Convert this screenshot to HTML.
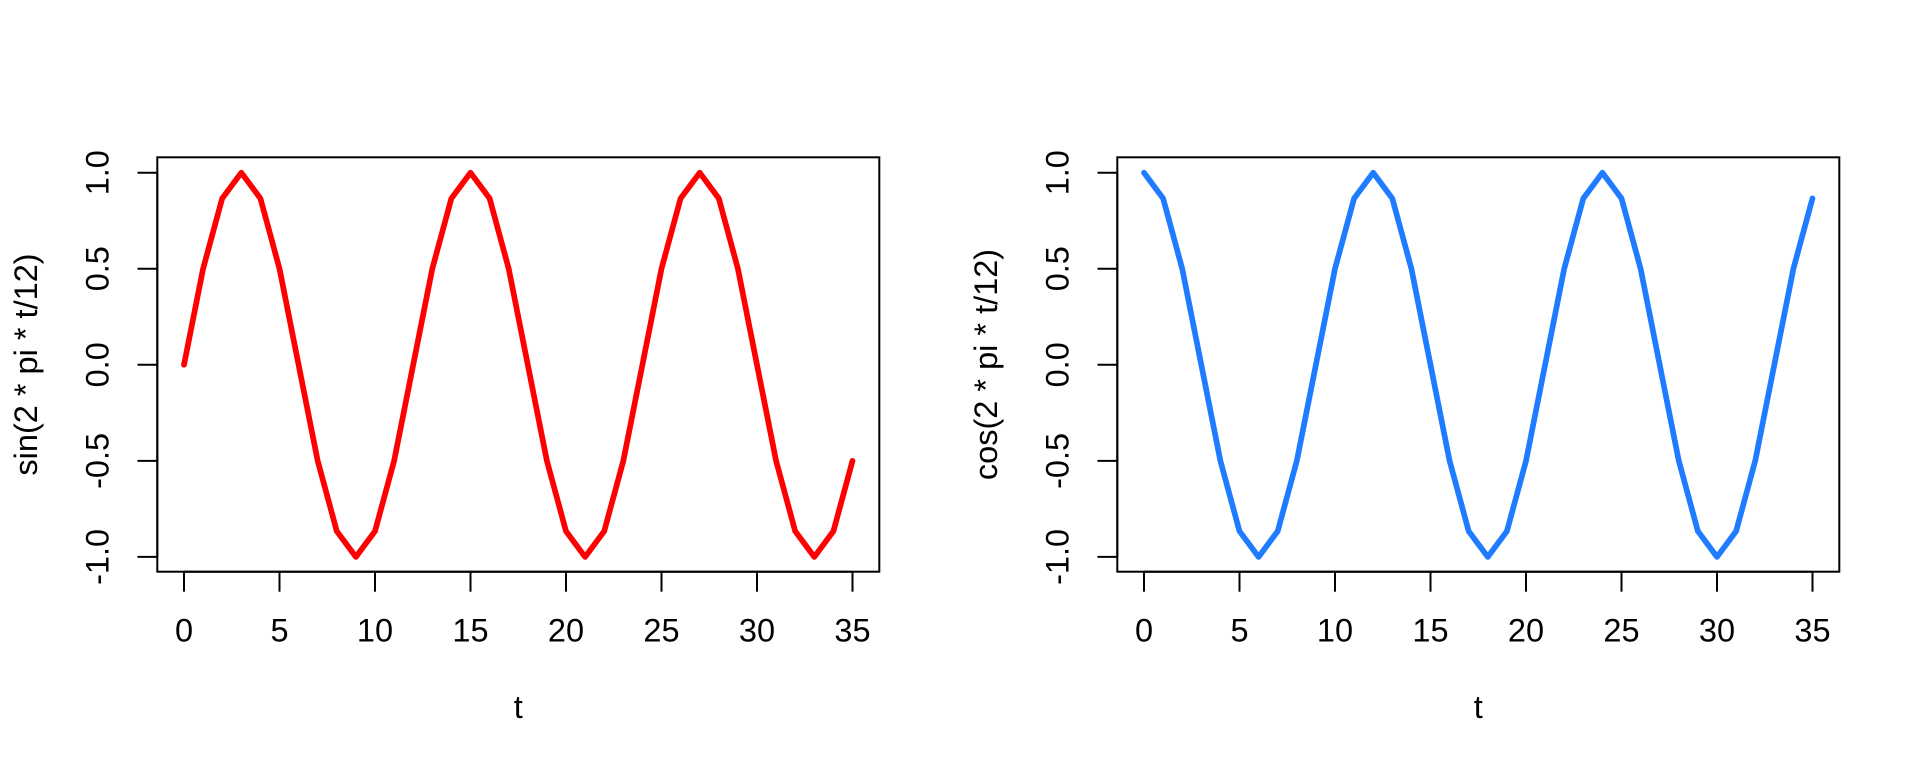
<!DOCTYPE html>
<html>
<head>
<meta charset="utf-8">
<style>
  html,body{margin:0;padding:0;background:#fff;}
  svg{display:block;}
  text{font-family:"Liberation Sans", Arial, Helvetica, sans-serif; fill:#000;}
</style>
</head>
<body>
<svg width="1920" height="768" viewBox="0 0 1920 768" xmlns="http://www.w3.org/2000/svg">
  <rect x="0" y="0" width="1920" height="768" fill="#fff"/>

  <!-- ============ LEFT PANEL ============ -->
  <g>
    <polyline fill="none" stroke="#ff0000" stroke-width="5.7" stroke-linejoin="round" stroke-linecap="round"
      points="184,364.8 203.1,268.7 222.2,198.4 241.3,172.7 260.4,198.4 279.5,268.7 298.6,364.8 317.7,460.9 336.8,531.2 355.9,556.9 375,531.2 394.1,460.9 413.2,364.8 432.3,268.7 451.4,198.4 470.5,172.7 489.6,198.4 508.7,268.7 527.8,364.8 546.9,460.9 566,531.2 585.1,556.9 604.2,531.2 623.3,460.9 642.4,364.8 661.5,268.7 680.6,198.4 699.7,172.7 718.8,198.4 737.9,268.7 757,364.8 776.1,460.9 795.2,531.2 814.3,556.9 833.4,531.2 852.5,460.9"/>
    <rect x="157.3" y="157.3" width="722" height="414.4" fill="none" stroke="#000" stroke-width="2"/>
    <g stroke="#000" stroke-width="2">
      <line x1="184" y1="571.7" x2="852.5" y2="571.7"/>
      <line x1="184" y1="571.7" x2="184" y2="591.7"/>
      <line x1="279.5" y1="571.7" x2="279.5" y2="591.7"/>
      <line x1="375" y1="571.7" x2="375" y2="591.7"/>
      <line x1="470.5" y1="571.7" x2="470.5" y2="591.7"/>
      <line x1="566" y1="571.7" x2="566" y2="591.7"/>
      <line x1="661.5" y1="571.7" x2="661.5" y2="591.7"/>
      <line x1="757" y1="571.7" x2="757" y2="591.7"/>
      <line x1="852.5" y1="571.7" x2="852.5" y2="591.7"/>
      <line x1="157.3" y1="172.7" x2="157.3" y2="556.9"/>
      <line x1="137.5" y1="172.7" x2="157.3" y2="172.7"/>
      <line x1="137.5" y1="268.7" x2="157.3" y2="268.7"/>
      <line x1="137.5" y1="364.8" x2="157.3" y2="364.8"/>
      <line x1="137.5" y1="460.9" x2="157.3" y2="460.9"/>
      <line x1="137.5" y1="556.9" x2="157.3" y2="556.9"/>
    </g>
    <g font-size="32.5" text-anchor="middle">
      <text x="184" y="641.7">0</text>
      <text x="279.5" y="641.7">5</text>
      <text x="375" y="641.7">10</text>
      <text x="470.5" y="641.7">15</text>
      <text x="566" y="641.7">20</text>
      <text x="661.5" y="641.7">25</text>
      <text x="757" y="641.7">30</text>
      <text x="852.5" y="641.7">35</text>
      <text transform="translate(108.5,172.7) rotate(-90)">1.0</text>
      <text transform="translate(108.5,268.7) rotate(-90)">0.5</text>
      <text transform="translate(108.5,364.8) rotate(-90)">0.0</text>
      <text transform="translate(108.5,460.9) rotate(-90)">-0.5</text>
      <text transform="translate(108.5,556.9) rotate(-90)">-1.0</text>
      <text x="518.3" y="718">t</text>
      <text transform="translate(37,364.5) rotate(-90)">sin(2 * pi * t/12)</text>
    </g>
  </g>

  <!-- ============ RIGHT PANEL ============ -->
  <g>
    <polyline fill="none" stroke="#1f7bff" stroke-width="5.7" stroke-linejoin="round" stroke-linecap="round"
      points="1144,172.7 1163.1,198.4 1182.2,268.7 1201.3,364.8 1220.4,460.9 1239.5,531.2 1258.6,556.9 1277.7,531.2 1296.8,460.9 1315.9,364.8 1335,268.7 1354.1,198.4 1373.2,172.7 1392.3,198.4 1411.4,268.7 1430.5,364.8 1449.6,460.9 1468.7,531.2 1487.8,556.9 1506.9,531.2 1526,460.9 1545.1,364.8 1564.2,268.7 1583.3,198.4 1602.4,172.7 1621.5,198.4 1640.6,268.7 1659.7,364.8 1678.8,460.9 1697.9,531.2 1717,556.9 1736.1,531.2 1755.2,460.9 1774.3,364.8 1793.4,268.7 1812.5,198.4"/>
    <rect x="1117.3" y="157.3" width="722" height="414.4" fill="none" stroke="#000" stroke-width="2"/>
    <g stroke="#000" stroke-width="2">
      <line x1="1144" y1="571.7" x2="1812.5" y2="571.7"/>
      <line x1="1144" y1="571.7" x2="1144" y2="591.7"/>
      <line x1="1239.5" y1="571.7" x2="1239.5" y2="591.7"/>
      <line x1="1335" y1="571.7" x2="1335" y2="591.7"/>
      <line x1="1430.5" y1="571.7" x2="1430.5" y2="591.7"/>
      <line x1="1526" y1="571.7" x2="1526" y2="591.7"/>
      <line x1="1621.5" y1="571.7" x2="1621.5" y2="591.7"/>
      <line x1="1717" y1="571.7" x2="1717" y2="591.7"/>
      <line x1="1812.5" y1="571.7" x2="1812.5" y2="591.7"/>
      <line x1="1117.3" y1="172.7" x2="1117.3" y2="556.9"/>
      <line x1="1097.5" y1="172.7" x2="1117.3" y2="172.7"/>
      <line x1="1097.5" y1="268.7" x2="1117.3" y2="268.7"/>
      <line x1="1097.5" y1="364.8" x2="1117.3" y2="364.8"/>
      <line x1="1097.5" y1="460.9" x2="1117.3" y2="460.9"/>
      <line x1="1097.5" y1="556.9" x2="1117.3" y2="556.9"/>
    </g>
    <g font-size="32.5" text-anchor="middle">
      <text x="1144" y="641.7">0</text>
      <text x="1239.5" y="641.7">5</text>
      <text x="1335" y="641.7">10</text>
      <text x="1430.5" y="641.7">15</text>
      <text x="1526" y="641.7">20</text>
      <text x="1621.5" y="641.7">25</text>
      <text x="1717" y="641.7">30</text>
      <text x="1812.5" y="641.7">35</text>
      <text transform="translate(1068.5,172.7) rotate(-90)">1.0</text>
      <text transform="translate(1068.5,268.7) rotate(-90)">0.5</text>
      <text transform="translate(1068.5,364.8) rotate(-90)">0.0</text>
      <text transform="translate(1068.5,460.9) rotate(-90)">-0.5</text>
      <text transform="translate(1068.5,556.9) rotate(-90)">-1.0</text>
      <text x="1478.3" y="718">t</text>
      <text transform="translate(997,364.5) rotate(-90)">cos(2 * pi * t/12)</text>
    </g>
  </g>
</svg>
</body>
</html>
